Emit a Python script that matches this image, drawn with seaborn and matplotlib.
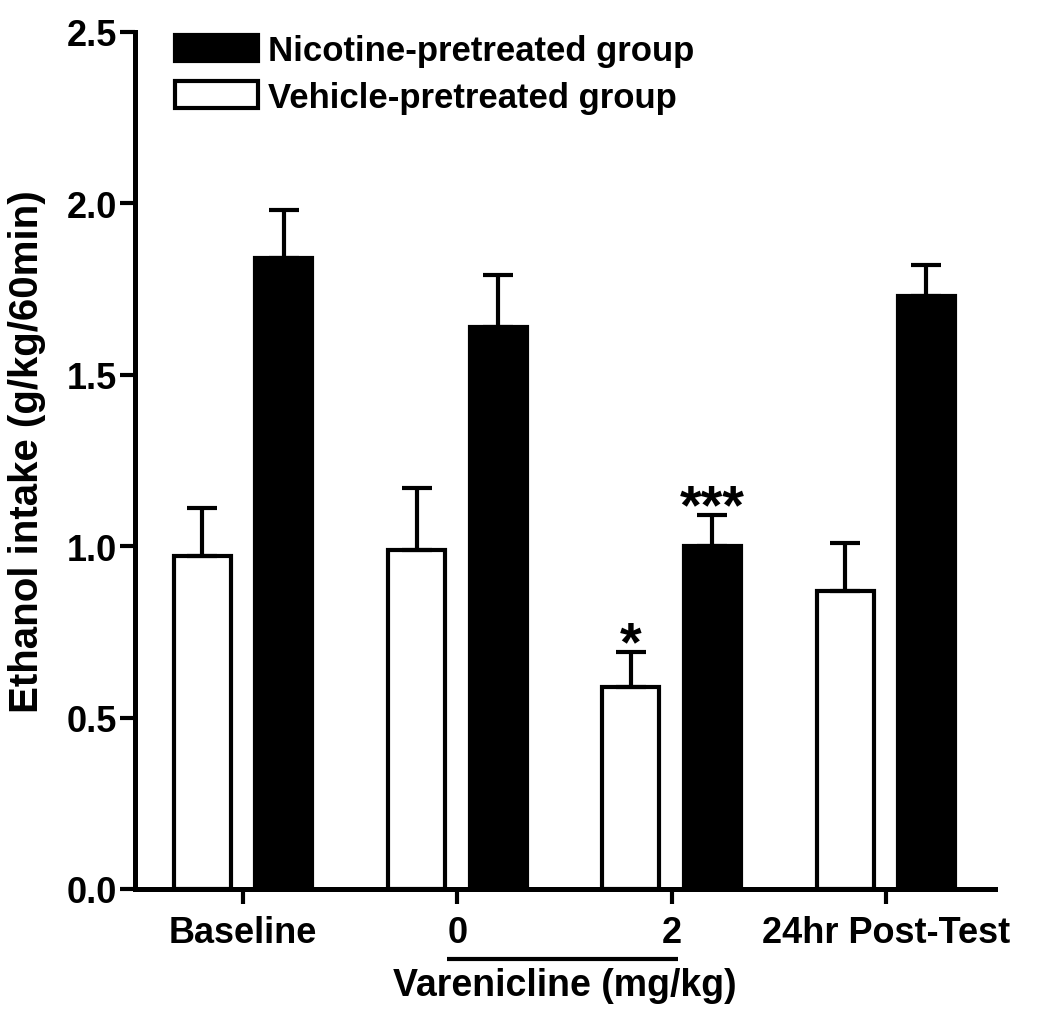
import pandas as pd
import matplotlib.pyplot as plt
import seaborn as sns
from matplotlib.patches import Patch

# ---------------------------------------------------------
# data (mean and upper SEM)
# ---------------------------------------------------------
conditions = ["Baseline", "0", "2", "24hr Post-Test"]
groups = ["Vehicle-pretreated group", "Nicotine-pretreated group"]
vehicle_mean = [0.97, 0.99, 0.59, 0.87]
vehicle_sem = [0.14, 0.18, 0.10, 0.14]
nicotine_mean = [1.84, 1.64, 1.00, 1.73]
nicotine_sem = [0.14, 0.15, 0.09, 0.09]
vehicle_stars = ["", "", "*", ""]
nicotine_stars = ["", "", "***", ""]

df = pd.DataFrame({
    "condition": conditions * 2,
    "group": [groups[0]] * 4 + [groups[1]] * 4,
    "intake": vehicle_mean + nicotine_mean,
})

sns.set_style("ticks")
plt.rcParams["font.family"] = ["Liberation Sans", "DejaVu Sans"]
plt.rcParams["font.weight"] = "bold"
for key in ["text.color", "axes.labelcolor", "xtick.color", "ytick.color", "axes.edgecolor"]:
    plt.rcParams[key] = "black"

fig = plt.figure(figsize=(10.5, 10.2), dpi=100)
ax = fig.add_axes([0.1286, 0.1275, 0.819, 0.8402])

sns.barplot(
    data=df, x="condition", y="intake", hue="group",
    order=conditions, hue_order=groups,
    palette={groups[0]: "white", groups[1]: "black"},
    edgecolor="black", linewidth=3, width=0.76, gap=0.3,
    errorbar=None, legend=False, ax=ax,
)

# error bars (upper only) + significance stars
for cont, means, sems, stars in zip(ax.containers,
                                    [vehicle_mean, nicotine_mean],
                                    [vehicle_sem, nicotine_sem],
                                    [vehicle_stars, nicotine_stars]):
    xs = [p.get_x() + p.get_width() / 2 for p in cont]
    ax.errorbar(xs, means, yerr=[[0] * len(means), sems], fmt="none",
                ecolor="black", elinewidth=3, capsize=11, capthick=3, zorder=3)
    for x, m, s, st in zip(xs, means, sems, stars):
        if st:
            ax.text(x, m + s - 0.02, st, ha="center", va="baseline",
                    fontsize=40, fontweight="bold")

ax.set_xlim(-0.505, 3.51)
ax.set_ylim(0, 2.5)
ax.set_yticks([0, 0.5, 1.0, 1.5, 2.0, 2.5])
ax.set_yticklabels([f"{v:.1f}" for v in [0, 0.5, 1.0, 1.5, 2.0, 2.5]])

sns.despine(ax=ax)
for side in ["left", "bottom"]:
    ax.spines[side].set_linewidth(3.6)
ax.tick_params(axis="y", length=11, width=3, labelsize=26, pad=2)
ax.tick_params(axis="x", length=11, width=3, labelsize=26, pad=8)
for lab in ax.get_xticklabels() + ax.get_yticklabels():
    lab.set_fontweight("bold")

ax.set_ylabel("Ethanol intake (g/kg/60min)", fontsize=29, fontweight="bold")
ax.yaxis.set_label_coords(-0.104, 0.512)
ax.set_xlabel("Varenicline (mg/kg)", fontsize=27, fontweight="bold", labelpad=12)

# line under the varenicline doses
ax.plot([1 - 0.05, 2 + 0.03], [-0.082, -0.082], transform=ax.get_xaxis_transform(),
        color="black", lw=3, clip_on=False, solid_capstyle="butt")

handles = [
    Patch(facecolor="black", edgecolor="black", linewidth=3, label=groups[1]),
    Patch(facecolor="white", edgecolor="black", linewidth=3, label=groups[0]),
]
ax.legend(handles=handles, loc="upper left", bbox_to_anchor=(0.0465, 0.998),
          frameon=False, prop={"size": 25, "weight": "bold"},
          handlelength=2.39, handleheight=0.78, handletextpad=0.3,
          labelspacing=0.4, borderpad=0, borderaxespad=0)

plt.savefig("out.png", dpi=100)
